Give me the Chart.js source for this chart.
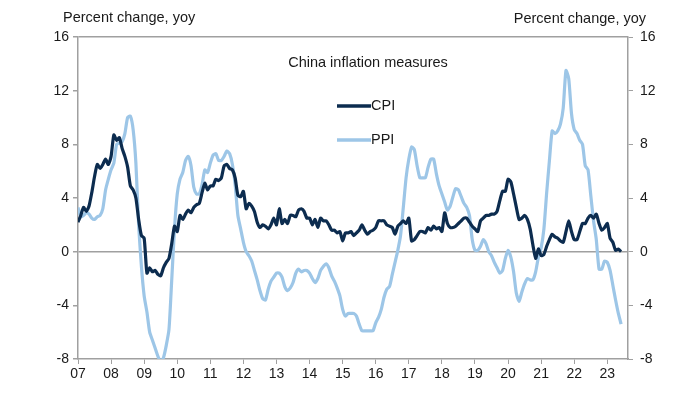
<!DOCTYPE html>
<html>
<head>
<meta charset="utf-8">
<script src="https://cdn.jsdelivr.net/npm/chart.js@4.4.1/dist/chart.umd.min.js"></script>
<style>
    html, body { margin: 0; padding: 0; background: #fff; }
    #wrap { width: 700px; height: 394px; position: relative; }
</style>
</head>
<body>
<div id="wrap"><canvas id="inflationChart"></canvas></div>
<script>
// Monthly yoy % change, Jan 2007 .. Jun 2023
const startYear = 2007;
const cpiValues = [
    2.2, 2.7, 3.3, 3.0, 3.4, 4.4, 5.6, 6.5, 6.2, 6.5, 6.9, 6.5,   // 2007
    7.1, 8.7, 8.3, 8.5, 7.7, 7.1, 6.3, 4.9, 4.6, 4.0, 2.4, 1.2,   // 2008
    1.0, -1.6, -1.2, -1.5, -1.4, -1.7, -1.8, -1.2, -0.8, -0.5, 0.6, 1.9, // 2009
    1.5, 2.7, 2.4, 2.8, 3.1, 2.9, 3.3, 3.5, 3.6, 4.4, 5.1, 4.6,   // 2010
    4.9, 4.9, 5.4, 5.3, 5.5, 6.4, 6.5, 6.2, 6.1, 5.5, 4.2, 4.1,   // 2011
    4.5, 3.2, 3.6, 3.4, 3.0, 2.2, 1.8, 2.0, 1.9, 1.7, 2.0, 2.5,   // 2012
    2.0, 3.2, 2.1, 2.4, 2.1, 2.7, 2.7, 2.6, 3.1, 3.2, 3.0, 2.5,   // 2013
    2.5, 2.0, 2.4, 1.8, 2.5, 2.3, 2.3, 2.0, 1.6, 1.6, 1.4, 1.5,   // 2014
    0.8, 1.4, 1.4, 1.5, 1.2, 1.4, 1.6, 2.0, 1.6, 1.3, 1.5, 1.6,   // 2015
    1.8, 2.3, 2.3, 2.3, 2.0, 1.9, 1.8, 1.3, 1.9, 2.1, 2.3, 2.1,   // 2016
    2.5, 0.8, 0.9, 1.2, 1.5, 1.5, 1.4, 1.8, 1.6, 1.9, 1.7, 1.8,   // 2017
    1.5, 2.9, 2.1, 1.8, 1.8, 1.9, 2.1, 2.3, 2.5, 2.5, 2.2, 1.9,   // 2018
    1.7, 1.5, 2.3, 2.5, 2.7, 2.7, 2.8, 2.8, 3.0, 3.8, 4.5, 4.5,   // 2019
    5.4, 5.2, 4.3, 3.3, 2.4, 2.5, 2.7, 2.4, 1.7, 0.5, -0.5, 0.2,  // 2020
    -0.3, -0.2, 0.4, 0.9, 1.3, 1.1, 1.0, 0.8, 0.7, 1.5, 2.3, 1.5, // 2021
    0.9, 0.9, 1.5, 2.1, 2.1, 2.5, 2.7, 2.5, 2.8, 2.1, 1.6, 1.8,   // 2022
    2.1, 1.0, 0.7, 0.1, 0.2, 0.0                                  // 2023
];
const ppiValues = [
    3.3, 2.6, 2.7, 2.9, 2.8, 2.5, 2.4, 2.6, 2.7, 3.2, 4.6, 5.4,   // 2007
    6.1, 6.6, 8.0, 8.1, 8.2, 8.8, 10.0, 10.1, 9.1, 6.6, 2.0, -1.1, // 2008
    -3.3, -4.5, -6.0, -6.6, -7.2, -7.8, -8.2, -7.9, -7.0, -5.8, -2.1, 1.7, // 2009
    4.3, 5.4, 5.9, 6.8, 7.1, 6.4, 4.8, 4.3, 4.3, 5.0, 6.1, 5.9,   // 2010
    6.6, 7.2, 7.3, 6.8, 6.8, 7.1, 7.5, 7.3, 6.5, 5.0, 2.7, 1.7,   // 2011
    0.7, 0.0, -0.3, -0.7, -1.4, -2.1, -2.9, -3.5, -3.6, -2.8, -2.2, -1.9, // 2012
    -1.6, -1.6, -1.9, -2.6, -2.9, -2.7, -2.3, -1.6, -1.3, -1.5, -1.4, -1.4, // 2013
    -1.6, -2.0, -2.3, -2.0, -1.4, -1.1, -0.9, -1.2, -1.8, -2.2, -2.7, -3.3, // 2014
    -4.3, -4.8, -4.6, -4.6, -4.6, -4.8, -5.4, -5.9, -5.9, -5.9, -5.9, -5.9, // 2015
    -5.3, -4.9, -4.3, -3.4, -2.8, -2.6, -1.7, -0.8, 0.1, 1.2, 3.3, 5.5, // 2016
    6.9, 7.8, 7.6, 6.4, 5.5, 5.5, 5.5, 6.3, 6.9, 6.9, 5.8, 4.9,   // 2017
    4.3, 3.7, 3.1, 3.4, 4.1, 4.7, 4.6, 4.1, 3.6, 3.3, 2.7, 0.9,   // 2018
    0.1, 0.1, 0.4, 0.9, 0.6, 0.0, -0.3, -0.8, -1.2, -1.6, -1.4, -0.5, // 2019
    0.1, -0.4, -1.5, -3.1, -3.7, -3.0, -2.4, -2.0, -2.1, -2.1, -1.5, -0.4, // 2020
    0.3, 1.7, 4.4, 6.8, 9.0, 8.8, 9.0, 9.5, 10.7, 13.5, 12.9, 10.3, // 2021
    9.1, 8.8, 8.3, 8.0, 6.4, 6.1, 4.2, 2.3, 0.9, -1.3, -1.3, -0.7, // 2022
    -0.8, -1.4, -2.5, -3.6, -4.6, -5.4                            // 2023
];
const yTickValues = [-8, -4, 0, 4, 8, 12, 16];
const xMaxMonth = 199.5;

const cpiColor = '#0c2c4f';
const ppiColor = '#9dc6e7';
const axisColor = '#a0a0a0';
const textColor = '#1a1a1a';
const fontFamily = '"Liberation Sans", Arial, sans-serif';

const cpiPoints = cpiValues.map((v, i) => ({ x: i, y: v }));
const ppiPoints = ppiValues.map((v, i) => ({ x: i, y: v }));

// texts and legend drawn straight on the canvas
const overlayPlugin = {
    id: 'overlay',
    afterDraw(chart) {
        const ctx = chart.ctx;
        ctx.save();
        ctx.fillStyle = textColor;
        ctx.font = '14.5px ' + fontFamily;
        ctx.textBaseline = 'middle';
        ctx.textAlign = 'left';
        ctx.fillText('Percent change, yoy', 63, 18);
        ctx.textAlign = 'right';
        ctx.fillText('Percent change, yoy', 646, 19);
        ctx.textAlign = 'center';
        ctx.fillText('China inflation measures', 368, 63);

        const items = [['CPI', cpiColor, 106], ['PPI', ppiColor, 140]];
        items.forEach(([label, color, y]) => {
            ctx.strokeStyle = color;
            ctx.lineWidth = 3.5;
            ctx.beginPath();
            ctx.moveTo(337, y);
            ctx.lineTo(371, y);
            ctx.stroke();
            ctx.textAlign = 'left';
            ctx.fillText(label, 371, y);
        });
        ctx.restore();
    }
};

new Chart(document.getElementById('inflationChart'), {
    type: 'line',
    data: {
        datasets: [
            {
                label: 'CPI',
                data: cpiPoints,
                borderColor: cpiColor,
                borderWidth: 3.2,
                pointRadius: 0,
                tension: 0.2,
                yAxisID: 'y'
            },
            {
                label: 'PPI',
                data: ppiPoints,
                borderColor: ppiColor,
                borderWidth: 3.2,
                pointRadius: 0,
                tension: 0.2,
                yAxisID: 'y'
            }
        ]
    },
    options: {
        responsive: true,
        maintainAspectRatio: false,
        animation: false,
        layout: { padding: { top: 37, left: 0, right: 0, bottom: 0 } },
        plugins: {
            legend: { display: false },
            tooltip: { enabled: false }
        },
        scales: {
            x: {
                type: 'linear',
                min: 0,
                max: xMaxMonth,
                afterFit: s => { s.height = 35; },
                afterBuildTicks: s => {
                    s.ticks = [];
                    for (let m = 0; m <= 192; m += 12) s.ticks.push({ value: m });
                },
                ticks: {
                    color: textColor,
                    font: { family: fontFamily, size: 14 },
                    padding: 2,
                    maxRotation: 0,
                    autoSkip: false,
                    callback: v => String((startYear + v / 12) % 100).padStart(2, '0')
                },
                grid: { drawOnChartArea: false, tickLength: 5, tickColor: axisColor },
                border: { color: axisColor, width: 1.5 }
            },
            y: {
                position: 'left',
                min: -8,
                max: 16,
                afterFit: s => { s.width = 78; },
                afterBuildTicks: s => { s.ticks = yTickValues.map(v => ({ value: v })); },
                ticks: {
                    color: textColor,
                    font: { family: fontFamily, size: 14 },
                    padding: 4
                },
                grid: {
                    tickLength: 5,
                    tickColor: axisColor,
                    lineWidth: 1.5,
                    color: c => (c.tick && (c.tick.value === 0 || c.tick.value === 16)) ? axisColor : 'rgba(0,0,0,0)'
                },
                border: { color: axisColor, width: 1.5 }
            },
            y2: {
                position: 'right',
                min: -8,
                max: 16,
                afterFit: s => { s.width = 72; },
                afterBuildTicks: s => { s.ticks = yTickValues.map(v => ({ value: v })); },
                ticks: {
                    color: textColor,
                    font: { family: fontFamily, size: 14 },
                    padding: 7
                },
                grid: { drawOnChartArea: false, tickLength: 5, tickColor: axisColor },
                border: { color: axisColor, width: 1.5 }
            }
        }
    },
    plugins: [overlayPlugin]
});
</script>
</body>
</html>
